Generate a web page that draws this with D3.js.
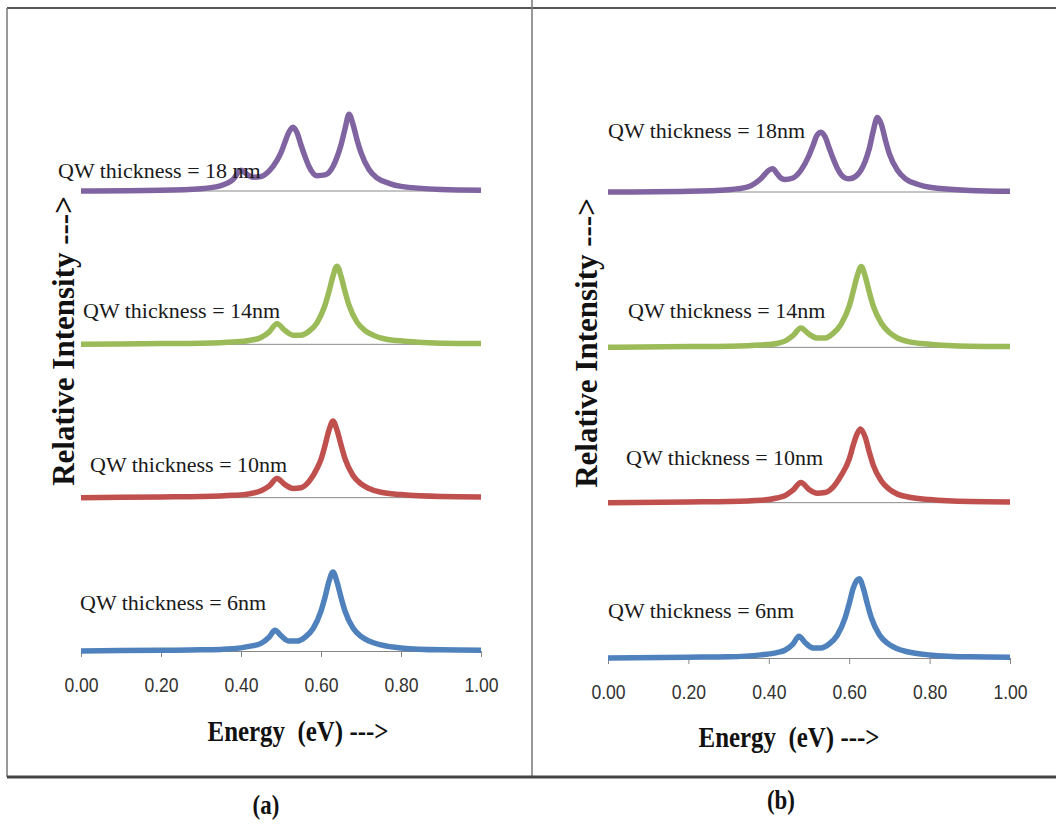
<!DOCTYPE html>
<html>
<head>
<meta charset="utf-8">
<script src="https://cdn.jsdelivr.net/npm/d3@7"></script>
<style>
  body { margin: 0; background: #fff; }
  svg { display: block; }
</style>
</head>
<body>
<svg id="chart" width="1056" height="832"></svg>
<script>
// quantum well thicknesses, bottom to top
const thicknesses = ["6nm", "10nm", "14nm", "18nm"];
// vertical stacking of each curve (intensity units)
const offsets = [0, 2, 4, 6];
const xTicks = [0, 0.2, 0.4, 0.6, 0.8, 1.0];
const labelsA = ["QW thickness = 6nm", "QW thickness = 10nm", "QW thickness = 14nm", "QW thickness = 18 nm"];
const labelsB = ["QW thickness = 6nm", "QW thickness = 10nm", "QW thickness = 14nm", "QW thickness = 18nm"];

// spectra [energy eV, relative intensity]
const specA6 = [[0,0],[0.2,0.01],[0.3,0.015],[0.38,0.03],[0.42,0.06],[0.45,0.10],[0.47,0.18],[0.485,0.27],[0.50,0.20],[0.52,0.13],[0.54,0.13],[0.56,0.18],[0.58,0.29],[0.60,0.52],[0.61,0.70],[0.62,0.91],[0.63,1.03],[0.64,0.90],[0.65,0.70],[0.66,0.52],[0.68,0.30],[0.70,0.19],[0.72,0.13],[0.75,0.08],[0.80,0.04],[0.90,0.015],[1.0,0.01]];
const specA10 = [[0,0],[0.2,0.01],[0.3,0.015],[0.38,0.03],[0.42,0.05],[0.45,0.09],[0.47,0.15],[0.49,0.25],[0.51,0.17],[0.53,0.12],[0.55,0.13],[0.57,0.21],[0.59,0.38],[0.60,0.50],[0.61,0.68],[0.62,0.88],[0.63,1.0],[0.64,0.88],[0.65,0.69],[0.66,0.51],[0.68,0.29],[0.70,0.18],[0.72,0.12],[0.75,0.07],[0.80,0.04],[0.90,0.015],[1.0,0.01]];
const specA14 = [[0,0],[0.2,0.01],[0.3,0.015],[0.38,0.03],[0.42,0.05],[0.45,0.09],[0.47,0.16],[0.49,0.27],[0.51,0.18],[0.53,0.12],[0.55,0.12],[0.57,0.17],[0.59,0.28],[0.61,0.51],[0.62,0.69],[0.63,0.89],[0.64,1.02],[0.65,0.89],[0.66,0.69],[0.67,0.51],[0.69,0.29],[0.71,0.18],[0.73,0.12],[0.76,0.07],[0.81,0.04],[0.90,0.015],[1.0,0.01]];
const specA18 = [[0,0],[0.2,0.01],[0.3,0.03],[0.35,0.07],[0.38,0.15],[0.40,0.27],[0.41,0.24],[0.42,0.20],[0.43,0.18],[0.45,0.19],[0.47,0.26],[0.49,0.40],[0.50,0.50],[0.51,0.64],[0.52,0.77],[0.53,0.83],[0.54,0.76],[0.55,0.60],[0.56,0.45],[0.57,0.32],[0.59,0.20],[0.61,0.21],[0.63,0.32],[0.64,0.44],[0.65,0.60],[0.66,0.81],[0.67,1.0],[0.68,0.87],[0.69,0.67],[0.70,0.50],[0.72,0.28],[0.74,0.17],[0.77,0.10],[0.80,0.06],[0.90,0.02],[1.0,0.01]];

// spectra
const specB6 = [[0,0],[0.2,0.01],[0.3,0.015],[0.38,0.04],[0.42,0.07],[0.44,0.10],[0.46,0.18],[0.475,0.28],[0.49,0.20],[0.51,0.13],[0.53,0.13],[0.55,0.18],[0.57,0.29],[0.59,0.52],[0.60,0.70],[0.61,0.90],[0.625,1.02],[0.635,0.90],[0.645,0.70],[0.655,0.52],[0.675,0.30],[0.695,0.19],[0.715,0.13],[0.745,0.08],[0.80,0.04],[0.90,0.015],[1.0,0.01]];
const specB10 = [[0,0],[0.2,0.01],[0.3,0.015],[0.38,0.03],[0.42,0.06],[0.44,0.09],[0.46,0.16],[0.48,0.26],[0.50,0.17],[0.52,0.12],[0.54,0.13],[0.56,0.20],[0.58,0.35],[0.60,0.56],[0.61,0.74],[0.62,0.89],[0.628,0.95],[0.64,0.84],[0.65,0.65],[0.66,0.48],[0.68,0.28],[0.70,0.17],[0.72,0.11],[0.75,0.07],[0.80,0.04],[0.90,0.015],[1.0,0.01]];
const specB14 = [[0,0],[0.2,0.01],[0.3,0.015],[0.38,0.03],[0.42,0.05],[0.44,0.08],[0.46,0.15],[0.48,0.25],[0.50,0.17],[0.52,0.12],[0.54,0.12],[0.56,0.18],[0.58,0.30],[0.60,0.53],[0.61,0.72],[0.62,0.92],[0.63,1.04],[0.64,0.91],[0.65,0.71],[0.66,0.53],[0.68,0.31],[0.70,0.19],[0.72,0.12],[0.75,0.07],[0.80,0.04],[0.90,0.015],[1.0,0.01]];
const specB18 = [[0,0],[0.2,0.01],[0.3,0.03],[0.35,0.07],[0.38,0.17],[0.40,0.28],[0.41,0.30],[0.42,0.24],[0.43,0.18],[0.44,0.16],[0.46,0.18],[0.48,0.28],[0.50,0.47],[0.51,0.60],[0.52,0.73],[0.53,0.77],[0.54,0.71],[0.55,0.57],[0.56,0.43],[0.57,0.31],[0.59,0.18],[0.60,0.17],[0.62,0.22],[0.64,0.40],[0.65,0.56],[0.66,0.79],[0.67,0.96],[0.68,0.87],[0.69,0.67],[0.70,0.49],[0.72,0.28],[0.74,0.17],[0.77,0.10],[0.80,0.06],[0.90,0.02],[1.0,0.01]];

const colors = ["#4F81BD", "#C0504D", "#9BBB59", "#8064A2"];

// label anchors: [energy of left edge, height above own baseline]
const labelPosA = [[-0.0025, 0.63], [0.0225, 0.43], [0.005, 0.44], [-0.0575, 0.27]];
const labelPosB = [[0, 0.62], [0.045, 0.58], [0.05, 0.48], [0, 0.80]];

const panels = [
    { name: "(a)", spectra: [specA6, specA10, specA14, specA18], labels: labelsA, labelPos: labelPosA,
      x0: 81, x1: 481, yBase: 651, yTop: 191, titleX: 298, titleY: 741, yTitleX: 74, yTitleY: 341, capX: 266, capY: 814 },
    { name: "(b)", spectra: [specB6, specB10, specB14, specB18], labels: labelsB, labelPos: labelPosB,
      x0: 608, x1: 1010, yBase: 658, yTop: 192, titleX: 789, titleY: 747, yTitleX: 597, yTitleY: 343, capX: 781, capY: 809 }
];

const svg = d3.select("#chart");
const serif = "'Liberation Serif', 'Times New Roman', serif";

// frame lines
svg.append("line").attr("x1", 7).attr("x2", 1056).attr("y1", 8).attr("y2", 8)
    .attr("stroke", "#555").attr("stroke-width", 2);
svg.append("line").attr("x1", 7).attr("x2", 7).attr("y1", 8).attr("y2", 777)
    .attr("stroke", "#777").attr("stroke-width", 1.5);
svg.append("line").attr("x1", 532).attr("x2", 532).attr("y1", 0).attr("y2", 777)
    .attr("stroke", "#777").attr("stroke-width", 1.5);
svg.append("line").attr("x1", 7).attr("x2", 1056).attr("y1", 777).attr("y2", 777)
    .attr("stroke", "#444").attr("stroke-width", 3);

panels.forEach(p => {
    const x = d3.scaleLinear().domain([0, 1]).range([p.x0, p.x1]);
    const y = d3.scaleLinear().domain([0, 6]).range([p.yBase, p.yTop]);
    const g = svg.append("g");

    // thin baselines behind each curve
    g.selectAll(".base").data(offsets.slice(1)).enter().append("line")
        .attr("x1", x(0)).attr("x2", x(1))
        .attr("y1", d => y(d)).attr("y2", d => y(d))
        .attr("stroke", "#8a8a8a").attr("stroke-width", 1);

    // bottom x axis
    const axis = g.append("g")
        .attr("transform", `translate(0,${y(0)})`)
        .call(d3.axisBottom(x).tickValues(xTicks).tickFormat(d3.format(".2f")).tickSize(6).tickPadding(21));
    axis.select(".domain").attr("stroke", "#868686");
    axis.selectAll(".tick line").attr("stroke", "#868686");
    axis.selectAll(".tick text")
        .attr("fill", "#333")
        .attr("transform", "scale(0.88,1)")
        .style("font-family", "'Liberation Sans', sans-serif")
        .style("font-size", "20px");

    const line = d3.line()
        .x(d => x(d[0]))
        .curve(d3.curveMonotoneX);

    p.spectra.forEach((s, i) => {
        g.append("path")
            .datum(s)
            .attr("fill", "none")
            .attr("stroke", colors[i])
            .attr("stroke-width", 5.5)
            .attr("stroke-linejoin", "round")
            .attr("d", line.y(d => y(offsets[i] + d[1])));
    });

    // series labels
    g.selectAll(".lbl").data(p.labels).enter().append("text")
        .attr("x", (d, i) => x(p.labelPos[i][0]))
        .attr("y", (d, i) => y(offsets[i] + p.labelPos[i][1]))
        .attr("dy", "0.35em")
        .attr("fill", "#1a1a1a")
        .style("font-family", serif)
        .style("font-size", "22px")
        .text(d => d);

    // axis titles
    g.append("text")
        .attr("transform", `translate(${p.titleX},${p.titleY}) scale(0.86,1)`)
        .attr("text-anchor", "middle")
        .attr("fill", "#111")
        .style("font-family", serif)
        .style("font-weight", "bold")
        .style("font-size", "29px")
        .style("white-space", "pre")
        .text("Energy  (eV) --->");

    g.append("text")
        .attr("transform", `translate(${p.yTitleX},${p.yTitleY}) rotate(-90)`)
        .attr("text-anchor", "middle")
        .attr("fill", "#111")
        .style("font-family", serif)
        .style("font-weight", "bold")
        .style("font-size", "31px")
        .text("Relative Intensity --->");

    svg.append("text")
        .attr("transform", `translate(${p.capX},${p.capY}) scale(0.85,1)`)
        .attr("text-anchor", "middle")
        .attr("fill", "#111")
        .style("font-family", serif)
        .style("font-weight", "bold")
        .style("font-size", "27px")
        .text(p.name);
});
</script>
</body>
</html>
